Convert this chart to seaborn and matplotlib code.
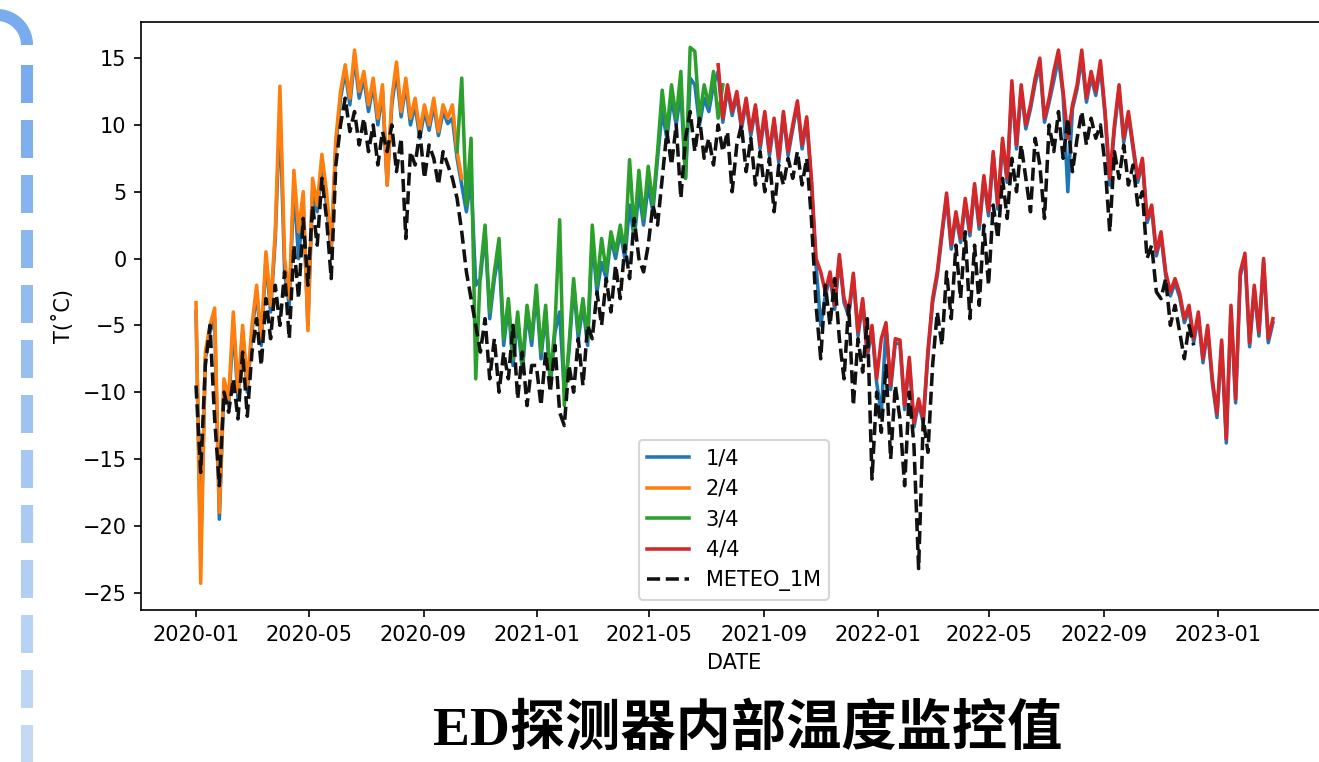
import numpy as np
import pandas as pd
import matplotlib
matplotlib.use("Agg")
import matplotlib.pyplot as plt
import matplotlib.dates as mdates
from matplotlib.lines import Line2D
import seaborn as sns

# ---------------------------------------------------------------------------
# Temperature series, one value every STEP, starting at the given date
# ---------------------------------------------------------------------------
STEP = "5D"

METEO_START = "2020-01-01"
meteo_1m = [
    -9.5, -16, -8, -5, -12, -17,
    -10, -11.5, -9, -12, -7, -11.8,
    -7, -4.5, -8, -3, -6, -2,
    -5, -1, -6, 1, -3, 3,
    -2, 4, 1, 6, 3, -1.5, 7,
    10, 12, 9.5, 11, 8.5, 10.5,
    8, 10, 7, 9.5, 8, 10,
    6.5, 9, 1.5, 8, 7, 9.5,
    6, 8.5, 7.5, 5.5, 8, 7,
    6, 4.5, 2, -1, -3, -5,
    -7, -4.5, -9, -6, -10, -7,
    -9, -5, -10.5, -7, -11, -8,
    -8, -11, -7, -10, -6.5, -11.5, -12.5,
    -8, -10, -6, -9.5, -5,
    -6, -2.5, -5, -1.5, -4, -0.5,
    -3, 1, -1.5, 3, 0, -1,
    1, 4, 2.5, 6, 9.5, 7,
    10, 4.5, 9, 11, 8, 10.5, 7.5,
    9, 7, 10, 8, 9.5, 5,
    8.5, 10, 6.5, 9, 5.5, 8,
    5, 7.5, 3.5, 7, 5.5, 7.5,
    6, 8, 5.5, 7.5, 3, -3.5,
    -7.5, -2, -5, -1.5, -6, -9,
    -3.5, -11, -6, -8.5, -4.5, -16.5,
    -10, -13, -8, -15, -9.5, -12,
    -17, -10, -14, -23.2, -12, -14.5,
    -8, -4, -6.5, -1, -4.5, 1,
    -3, 2, -4.5, 1, -3.5, 2.5, -2,
    4, 1.5, 6, 3, 7.5, 5,
    8.5, 6, 3.5, 9, 7, 3,
    10, 8, 11, 7.5, 10.5, 6.5,
    9, 11, 8.5, 10.5, 9, 10,
    7, 2, 8, 6, 8.5, 5.5,
    7, 4, 5, 0, 1, -2.5,
    -3, -1.5, -5, -3.5, -5.5, -7.5, -5, -6.5,
]

S1_START = "2020-01-01"
sensor_1 = [
    -4, -22, -7.5, -5.5, -4.5, -19.5,
    -9.5, -11, -5, -10.5, -5.5, -10,
    -5.5, -2.5, -6.5, 0, -4, 1.5,
    11, -1, -3.5, 5.5, 0, 4,
    -5, 5, 3.5, 7, 4, 0.5, 8.5,
    12, 14, 11.5, 15, 12, 13.5,
    11, 13, 10, 12.5, 5.5, 11.5, 14,
    10.6, 13, 10, 11.5, 9,
    11, 9.6, 11.5, 9.2, 11, 10.1,
    10.5, 7.5, 5.5,
    3.5, 6, -2, -1.5, 2, -4.5, -1.5, 0.5, -6.5,
    -3.5, -8, -4.5, -8.5, -4, -6.5,
    -2.5, -7.5, -4, -9.5, -5.5, -4, -10,
    -7, -2, -6, -3.5, -6.5,
    1.5, -2.5, -0.3, -1.5, 1.5, 0,
    2, 0, 4, 1.5, 5, 2.5,
    5.5, 3.5, 7.5, 11, 9, 12,
    10, 12.5, 6, 13.5, 13, 10, 12,
    11, 13,
    14, 10.2, 12.7, 10.7, 12.2, 9.7, 11.7, 9.2, 11.2, 8.2,
    10.7, 7.7, 10.2, 7.2, 10.7, 7.7,
    9.7, 11.5, 8.2, 10.3, 5.7, -0.5,
    -5, -2.8, -1.3, -3.8, 0, -3.3,
    -4.3, -1.4, -5.8, -3.3, -7.3, -5.3,
    -9.3, -11.6, -5.1, -9.8, -6.3, -6.4,
    -11.3, -7.7, -12.6, -10.8, -12.3, -7.2,
    -3.3, -1.3, 1.7, 4.6, 0.7, 3.2,
    1.2, 4.2, 1.7, 5.3, 2.2, 5.9, 3.2,
    7.7, 3.7, 8.7, 5.7, 12.8, 8.2,
    12.6, 9.7, 11.2, 13.1, 14.5, 10.2,
    11.7, 13.3, 15, 12.2, 5, 11.2,
    12.7, 15, 11.7, 13.6, 12.2, 14.3,
    10.7, 5.5, 9.7, 12.6, 8.7, 10.7,
    8.2, 5.7, 7.2, 2.7, 3.7, 0.2,
    1.7, -1.3, -2.8, -1.8, -2.9, -4.8,
    -3.8, -6.3, -4.3, -7.8, -5.3, -9.3,
    -11.9, -6.4, -13.8, -3.8, -10.8, -1.3,
    0.1, -6.6, -2.3, -5.8, -0.3, -6.3, -4.8,
]

S2_START = "2020-01-01"
sensor_2 = [
    -3.3, -24.3, -7, -5, -3.7, -19,
    -9, -10.5, -4, -10, -5, -9.5,
    -5, -2, -6, 0.5, -3.5, 2,
    12.9, 0, -3, 6.6, 2, 5,
    -5.4, 6, 4, 7.8, 5, 1, 9,
    12.5, 14.5, 12, 15.6, 12.5, 14,
    11.5, 13.5, 10.5, 13, 5.5, 12, 14.7,
    11, 13.5, 10.5, 12, 9.5,
    11.5, 10, 12, 9.5, 11.5, 10.5,
    11.5, 8, 6,
]

S3_START = "2020-10-07"
sensor_3 = [
    8, 13.5, 4, 9, -9, -1, 2.5, -4, -1, 1.5, -6,
    -3, -7.5, -4, -8, -3.5, -6,
    -2, -7, -3.5, -9, -5, 2.9, -11,
    -6.5, -1.5, -5.5, -3, -6,
    2.5, -2, 1.5, -1, 2, 0.5,
    2.5, 0.5, 7.4, 2, 6.6, 3,
    6.9, 4, 8, 12.6, 9.5, 13,
    10.5, 14, 6, 15.8, 15.5, 10.5, 13,
    11.5, 14, 10.5, 13,
]

S4_START = "2021-07-14"
sensor_4 = [
    14.5, 10.5, 13, 11, 12.5, 10, 12, 9.5, 11.5, 8.5,
    11, 8, 10.5, 7.5, 11, 8,
    10, 11.8, 8.5, 10.6, 6, 0,
    -1, -2.5, -1, -3.5, 0.3, -3,
    -4, -1.1, -5.5, -3, -7, -5,
    -9, -6, -4.8, -9.5, -6, -6.1,
    -11, -7.4, -12.3, -10.5, -12, -6.9,
    -3, -1, 2, 4.9, 1, 3.5,
    1.5, 4.5, 2, 5.6, 2.5, 6.2, 3.5,
    8, 4, 9, 6, 13.3, 8.5,
    13, 10, 11.5, 13.5, 15, 10.5,
    12, 14, 15.6, 12.5, 9, 11.5,
    13, 15.6, 12, 14, 12.5, 14.8,
    11, 6, 10, 13, 9, 11,
    8.5, 6, 7.5, 3, 4, 0.5,
    2, -1, -2.5, -1.5, -2.6, -4.5,
    -3.5, -6, -4, -7.5, -5, -9,
    -11.6, -6.1, -13.5, -3.5, -10.5, -1,
    0.4, -6.3, -2, -5.5, 0, -6, -4.5,
]

series_labels = ["1/4", "2/4", "3/4", "4/4"]
series_colors = ["#1f77b4", "#ff7f0e", "#2ca02c", "#d62728"]
series_values = [sensor_1, sensor_2, sensor_3, sensor_4]
series_starts = [S1_START, S2_START, S3_START, S4_START]

title_text = "ED探测器内部温度监控值"


def to_frame(start, values):
    return pd.DataFrame({
        "DATE": pd.date_range(start, periods=len(values), freq=STEP),
        "T": values,
    })


# ---------------------------------------------------------------------------
# Figure
# ---------------------------------------------------------------------------
W, H, DPI = 1319, 762, 150
fig = plt.figure(figsize=(W / DPI, H / DPI), dpi=DPI)
fig.patch.set_facecolor("white")

ax = fig.add_axes([141 / W, 1 - 610 / H, (1327 - 141) / W, (610 - 22) / H])

for lab, col, vals, st in zip(series_labels, series_colors, series_values, series_starts):
    sns.lineplot(data=to_frame(st, vals), x="DATE", y="T", ax=ax,
                 color=col, linewidth=1.7, label=lab)

sns.lineplot(data=to_frame(METEO_START, meteo_1m), x="DATE", y="T", ax=ax,
             color="#111111", linewidth=1.7, linestyle="--", label="METEO_1M")

ax.set_xlim(pd.Timestamp("2019-11-03"), pd.Timestamp("2023-04-28"))
ax.set_ylim(-26.3, 17.7)
ax.set_yticks(np.arange(-25, 16, 5))
ax.xaxis.set_major_locator(mdates.MonthLocator(bymonth=[1, 5, 9]))
ax.xaxis.set_major_formatter(mdates.DateFormatter("%Y-%m"))
ax.set_xlabel("DATE")
ax.set_ylabel("T(˚C)")
ax.legend(loc="lower center")

# Slide decoration: rounded dashed rule along the left edge
top_c = np.array([0x78, 0xac, 0xee]) / 255
bot_c = np.array([0xc9, 0xdc, 0xf4]) / 255
theta = np.linspace(0, np.pi / 2, 60)
arc_x = -3 + 30 * np.cos(theta)
arc_y = 45 - 30 * np.sin(theta)
fig.add_artist(Line2D(arc_x / W, 1 - arc_y / H, transform=fig.transFigure,
                      color=top_c, lw=5.8, solid_capstyle="butt"))
for y0 in np.arange(65, H, 55):
    y1 = min(y0 + 38, H)
    t = (y0 - 65) / (H - 65)
    c = top_c * (1 - t) + bot_c * t
    fig.add_artist(Line2D([27 / W, 27 / W], [1 - y0 / H, 1 - y1 / H],
                          transform=fig.transFigure, color=c, lw=5.8,
                          solid_capstyle="butt"))

fig.text(748 / W, 1 - 730 / H, title_text, ha="center", va="center",
         fontsize=26.5, fontweight="bold",
         family=["Liberation Serif", "Noto Sans CJK SC"])

fig.savefig("out.png", dpi=DPI)
